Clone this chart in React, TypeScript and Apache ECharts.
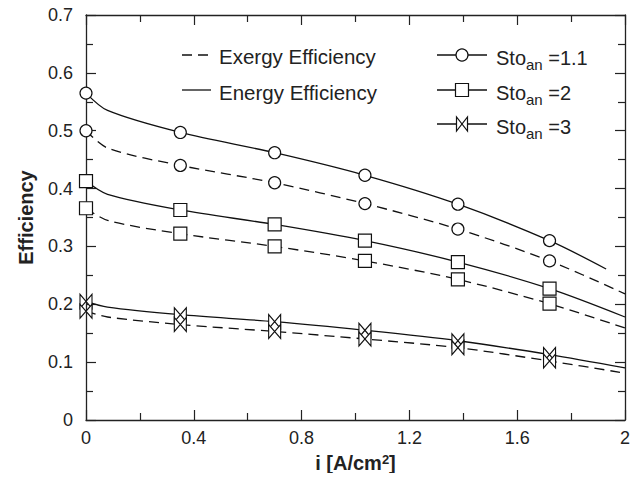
import React, { useEffect, useRef } from "react";
import * as echarts from "echarts";

const markerX = [0, 0.35, 0.7, 1.035, 1.38, 1.72];

const energy11 = [[0, 0.565], [0.08, 0.535], [0.35, 0.497], [0.7, 0.462], [1.035, 0.423], [1.38, 0.373], [1.72, 0.31], [1.93, 0.261]];
const exergy11 = [[0, 0.5], [0.08, 0.47], [0.35, 0.44], [0.7, 0.41], [1.035, 0.374], [1.38, 0.33], [1.72, 0.275], [2, 0.218]];
const energy2 = [[0, 0.413], [0.08, 0.39], [0.35, 0.363], [0.7, 0.338], [1.035, 0.31], [1.38, 0.273], [1.72, 0.227], [2, 0.178]];
const exergy2 = [[0, 0.366], [0.08, 0.345], [0.35, 0.322], [0.7, 0.3], [1.035, 0.275], [1.38, 0.243], [1.72, 0.201], [2, 0.159]];
const energy3 = [[0, 0.205], [0.08, 0.195], [0.35, 0.182], [0.7, 0.17], [1.035, 0.155], [1.38, 0.137], [1.72, 0.113], [2, 0.09]];
const exergy3 = [[0, 0.188], [0.08, 0.178], [0.35, 0.165], [0.7, 0.153], [1.035, 0.14], [1.38, 0.125], [1.72, 0.102], [2, 0.081]];

const xTicks = ["0", "0.4", "0.8", "1.2", "1.6", "2"];
const yTicks = ["0", "0.1", "0.2", "0.3", "0.4", "0.5", "0.6", "0.7"];
const legendLabels = ["Exergy Efficiency", "Energy Efficiency"];
const stoValues = ["=1.1", "=2", "=3"];

const FONT = "'Liberation Sans', Arial, sans-serif";
const TXT = "#222";
const BOWTIE = "path://M0,0L0,1L1,0L1,1Z";

function mkSeries(name: string, pts: number[][], dashed: boolean, symbol: string, size: number | number[]) {
  return {
    name,
    type: "line",
    smooth: 0.3,
    clip: false,
    data: pts.map((p) => {
      const isMarker = markerX.some((m) => Math.abs(m - p[0]) < 1e-6);
      return isMarker ? { value: p } : { value: p, symbol: "none" };
    }),
    symbol,
    symbolSize: size,
    showAllSymbol: true,
    lineStyle: { color: "#111", width: 1.3, type: dashed ? [10, 6] : "solid" },
    itemStyle: { color: "#fff", borderColor: "#111", borderWidth: 1.2 },
    z: 3,
  };
}

const axisLine = () => ({ show: true, onZero: false, lineStyle: { color: "#222", width: 1.3 } });
const ticks = () => ({ show: true, inside: true, length: 10, lineStyle: { color: "#222", width: 1.2 } });
const minor = () => ({ show: true, splitNumber: 2, length: 7, lineStyle: { color: "#222", width: 1.2 } });

export default function App() {
  const ref = useRef<HTMLDivElement>(null);
  useEffect(() => {
    const chart = echarts.init(ref.current!, null, { renderer: "svg" });
    const leftRows = [55, 90];
    const leftTextY = [56, 92];
    const rightRows = [55, 90, 124];
    const rl0 = 437, rl1 = 487, rc = 462;
    const stoRich = {
      b: { fontSize: 20, fontFamily: FONT, fill: TXT },
      s: { fontSize: 15, fontFamily: FONT, fill: TXT, padding: [12, 0, 0, 0] },
    };
    const option: any = {
      animation: false,
      backgroundColor: "#fff",
      grid: { left: 86, right: 18, top: 15, bottom: 61 },
      xAxis: [
        {
          type: "value", min: 0, max: 2, interval: 0.4,
          axisLine: axisLine(), splitLine: { show: false },
          axisTick: ticks(), minorTick: minor(),
          axisLabel: { fontSize: 18, fontFamily: FONT, color: TXT, margin: 9, formatter: (v: number) => xTicks[Math.round(v / 0.4)] ?? "" },
          name: "i [A/cm{sup|2}]",
          nameLocation: "middle", nameGap: 33, nameMoveOverlap: false,
          nameTextStyle: {
            fontSize: 20, fontWeight: "bold", fontFamily: FONT, color: TXT,
            rich: { sup: { fontSize: 13, fontWeight: "bold", fontFamily: FONT, color: TXT, verticalAlign: "top" } },
          },
        },
        {
          type: "value", min: 0, max: 2, interval: 0.4, position: "top",
          axisLine: axisLine(), splitLine: { show: false }, axisLabel: { show: false },
          axisTick: ticks(), minorTick: minor(),
        },
      ],
      yAxis: [
        {
          type: "value", min: 0, max: 0.7, interval: 0.1,
          axisLine: axisLine(), splitLine: { show: false },
          axisTick: ticks(), minorTick: minor(),
          axisLabel: { fontSize: 18, fontFamily: FONT, color: TXT, margin: 13, formatter: (v: number) => yTicks[Math.round(v / 0.1)] ?? "" },
          name: "Efficiency",
          nameLocation: "middle", nameGap: 50, nameMoveOverlap: false,
          nameTextStyle: { fontSize: 20, fontWeight: "bold", fontFamily: FONT, color: TXT },
        },
        {
          type: "value", min: 0, max: 0.7, interval: 0.1, position: "right",
          axisLine: axisLine(), splitLine: { show: false }, axisLabel: { show: false },
          axisTick: ticks(), minorTick: minor(),
        },
      ],
      series: [
        mkSeries("energy11", energy11, false, "circle", 12),
        mkSeries("exergy11", exergy11, true, "circle", 12),
        mkSeries("energy2", energy2, false, "rect", 13),
        mkSeries("exergy2", exergy2, true, "rect", 13),
        mkSeries("energy3", energy3, false, BOWTIE, [12, 14]),
        mkSeries("exergy3", exergy3, true, BOWTIE, [12, 14]),
      ],
      graphic: [
        { type: "line", shape: { x1: 182, y1: leftRows[0], x2: 210, y2: leftRows[0] }, style: { stroke: "#111", lineWidth: 1.3, lineDash: [10, 6] } },
        { type: "line", shape: { x1: 182, y1: leftRows[1], x2: 211, y2: leftRows[1] }, style: { stroke: "#111", lineWidth: 1.3 } },
        ...legendLabels.map((t, i) => ({ type: "text", x: 219, y: leftTextY[i], style: { text: t, fontSize: 20.5, fontFamily: FONT, fill: TXT, verticalAlign: "middle" } })),
        ...rightRows.map((y) => ({ type: "line", shape: { x1: rl0, y1: y, x2: rl1, y2: y }, style: { stroke: "#111", lineWidth: 1.3 } })),
        { type: "circle", shape: { cx: rc, cy: rightRows[0], r: 6 }, style: { fill: "#fff", stroke: "#111", lineWidth: 1.2 }, z: 10 },
        { type: "rect", shape: { x: rc - 6.5, y: rightRows[1] - 6.5, width: 13, height: 13 }, style: { fill: "#fff", stroke: "#111", lineWidth: 1.2 }, z: 10 },
        { type: "polygon", shape: { points: [[rc - 5.5, rightRows[2] - 7], [rc - 5.5, rightRows[2] + 7], [rc + 5.5, rightRows[2] - 7], [rc + 5.5, rightRows[2] + 7]] }, style: { fill: "#fff", stroke: "#111", lineWidth: 1.2 }, z: 10 },
        ...stoValues.map((v, i) => ({
          type: "text", x: 496, y: rightRows[i] + 3, z: 10,
          style: { text: `{b|Sto}{s|an}{b| ${v}}`, rich: stoRich, verticalAlign: "middle", fontFamily: FONT, fill: TXT },
        })),
      ],
    };
    chart.setOption(option);
    return () => chart.dispose();
  }, []);
  return <div ref={ref} style={{ width: 643, height: 481, margin: -8 }} />;
}
